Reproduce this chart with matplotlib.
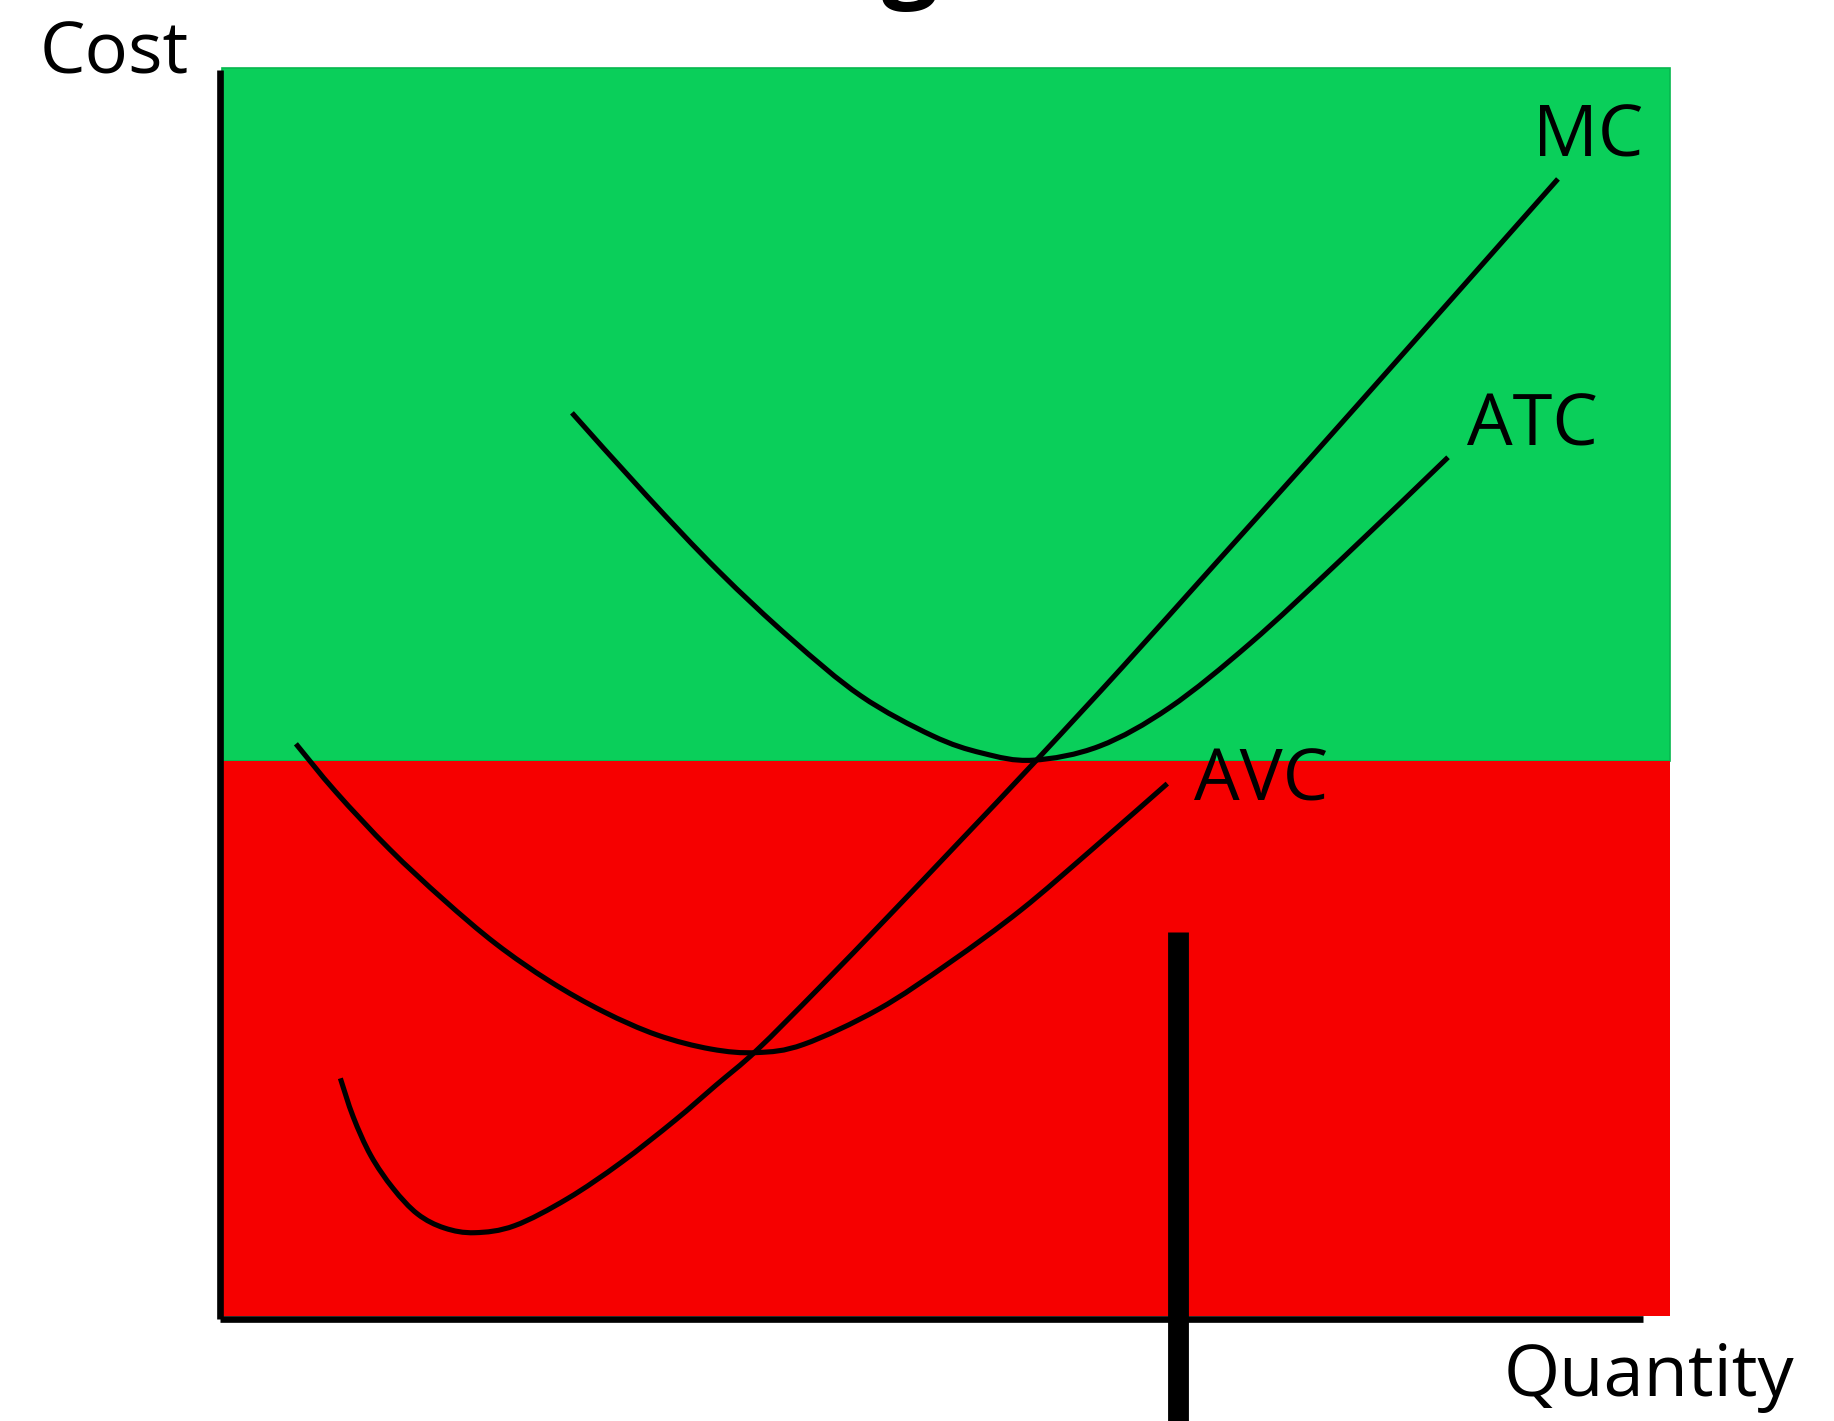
import matplotlib
matplotlib.use("Agg")
import numpy as np
import matplotlib.pyplot as plt
from matplotlib.patches import Rectangle, PathPatch
from matplotlib.path import Path

# ---- data (arbitrary cost / quantity units) ----
mc_q = [1.03, 1.14, 1.29, 1.48, 1.69, 1.92, 2.18, 2.52, 2.97, 3.43, 3.89, 4.24, 4.59, 5.12,
        5.72, 6.32, 7.00, 7.72, 8.52, 9.32, 10.12, 10.82, 11.44]
mc_c = [2.06, 1.73, 1.40, 1.12, 0.90, 0.78, 0.74, 0.80, 1.03, 1.34, 1.70, 2.00, 2.30, 2.83,
        3.45, 4.08, 4.80, 5.58, 6.47, 7.36, 8.26, 9.05, 9.75]

avc_q = [0.65, 0.99, 1.45, 1.91, 2.36, 2.82, 3.28, 3.74, 4.20, 4.59, 4.99, 5.63, 6.24, 6.85,
         7.46, 8.10]
avc_c = [4.92, 4.51, 4.02, 3.59, 3.21, 2.89, 2.63, 2.43, 2.31, 2.28, 2.35, 2.65, 3.05, 3.50,
         4.02, 4.58]

atc_q = [3.01, 3.65, 4.26, 4.88, 5.48, 6.09, 6.52, 6.95, 7.52, 8.12, 8.81, 9.57, 10.50]
atc_c = [7.75, 7.04, 6.40, 5.82, 5.33, 4.99, 4.84, 4.78, 4.90, 5.23, 5.78, 6.48, 7.37]

break_even = 4.77      # green / red boundary (min ATC)
q_max = 12.40
c_max = 10.70
marker_q = 8.19        # thick vertical marker
marker_top = 3.31

labels = ["MC", "ATC", "AVC"]

GREEN = "#0acf5a"
RED = "#f60000"


def smooth_path(xs, ys):
    """Cubic Bezier path passing through every data point (Catmull-Rom style)."""
    p = np.column_stack([xs, ys]).astype(float)
    n = len(p)
    verts = [p[0]]
    codes = [Path.MOVETO]
    for i in range(n - 1):
        p0 = p[i - 1] if i > 0 else p[i]
        p1, p2 = p[i], p[i + 1]
        p3 = p[i + 2] if i + 2 < n else p[i + 1]
        verts += [p1 + (p2 - p0) / 6.0, p2 - (p3 - p1) / 6.0, p2]
        codes += [Path.CURVE4] * 3
    return Path(verts, codes)


fig = plt.figure(figsize=(18.34, 14.21), dpi=100)
ax = fig.add_axes([0, 0, 1, 1])
ax.set_xlim(-1.88, 13.80)
ax.set_ylim(-0.87, 11.28)
ax.axis("off")

# background regions
ax.add_patch(Rectangle((0.02, break_even), q_max - 0.02, c_max - break_even,
                       facecolor=GREEN, edgecolor="#06b84e", lw=1.2, zorder=1))
ax.add_patch(Rectangle((0.02, 0.03), q_max - 0.02, break_even - 0.03,
                       facecolor=RED, edgecolor="none", zorder=1))

# axes lines
ax.plot([0, 0], [0, 10.68], color="black", lw=4.8, solid_capstyle="butt", zorder=3)
ax.plot([0, 12.17], [0, 0], color="black", lw=4.8, solid_capstyle="butt", zorder=3)

# curves
for xs, ys in [(mc_q, mc_c), (avc_q, avc_c), (atc_q, atc_c)]:
    ax.add_patch(PathPatch(smooth_path(xs, ys), facecolor="none", edgecolor="black",
                           lw=3.7, capstyle="butt", joinstyle="round", zorder=4))

# thick vertical marker
ax.plot([marker_q, marker_q], [marker_top, -0.87], color="black", lw=15,
        solid_capstyle="butt", zorder=5)

font = "Open Sans"
fs = 52
ax.text(11.70, 10.10, labels[0], fontsize=fs, family=font, ha="center", va="center", zorder=6)
ax.text(11.22, 7.63, labels[1], fontsize=fs, family=font, ha="center", va="center", zorder=6)
ax.text(8.90, 4.60, labels[2], fontsize=fs, family=font, ha="center", va="center", zorder=6)
ax.text(-0.90, 10.81, "Cost", fontsize=fs, family=font, ha="center", va="center", zorder=6)
ax.text(12.22, -0.50, "Quantity", fontsize=fs, family=font, ha="center", va="center", zorder=6)

# partially visible title (cut off at top, as in the reference)
fig.text(910 / 1834, 1 + 12 / 1421, "g", fontsize=72, family=font, fontweight="bold",
         ha="center", va="baseline")

fig.savefig("out.png", dpi=100)
